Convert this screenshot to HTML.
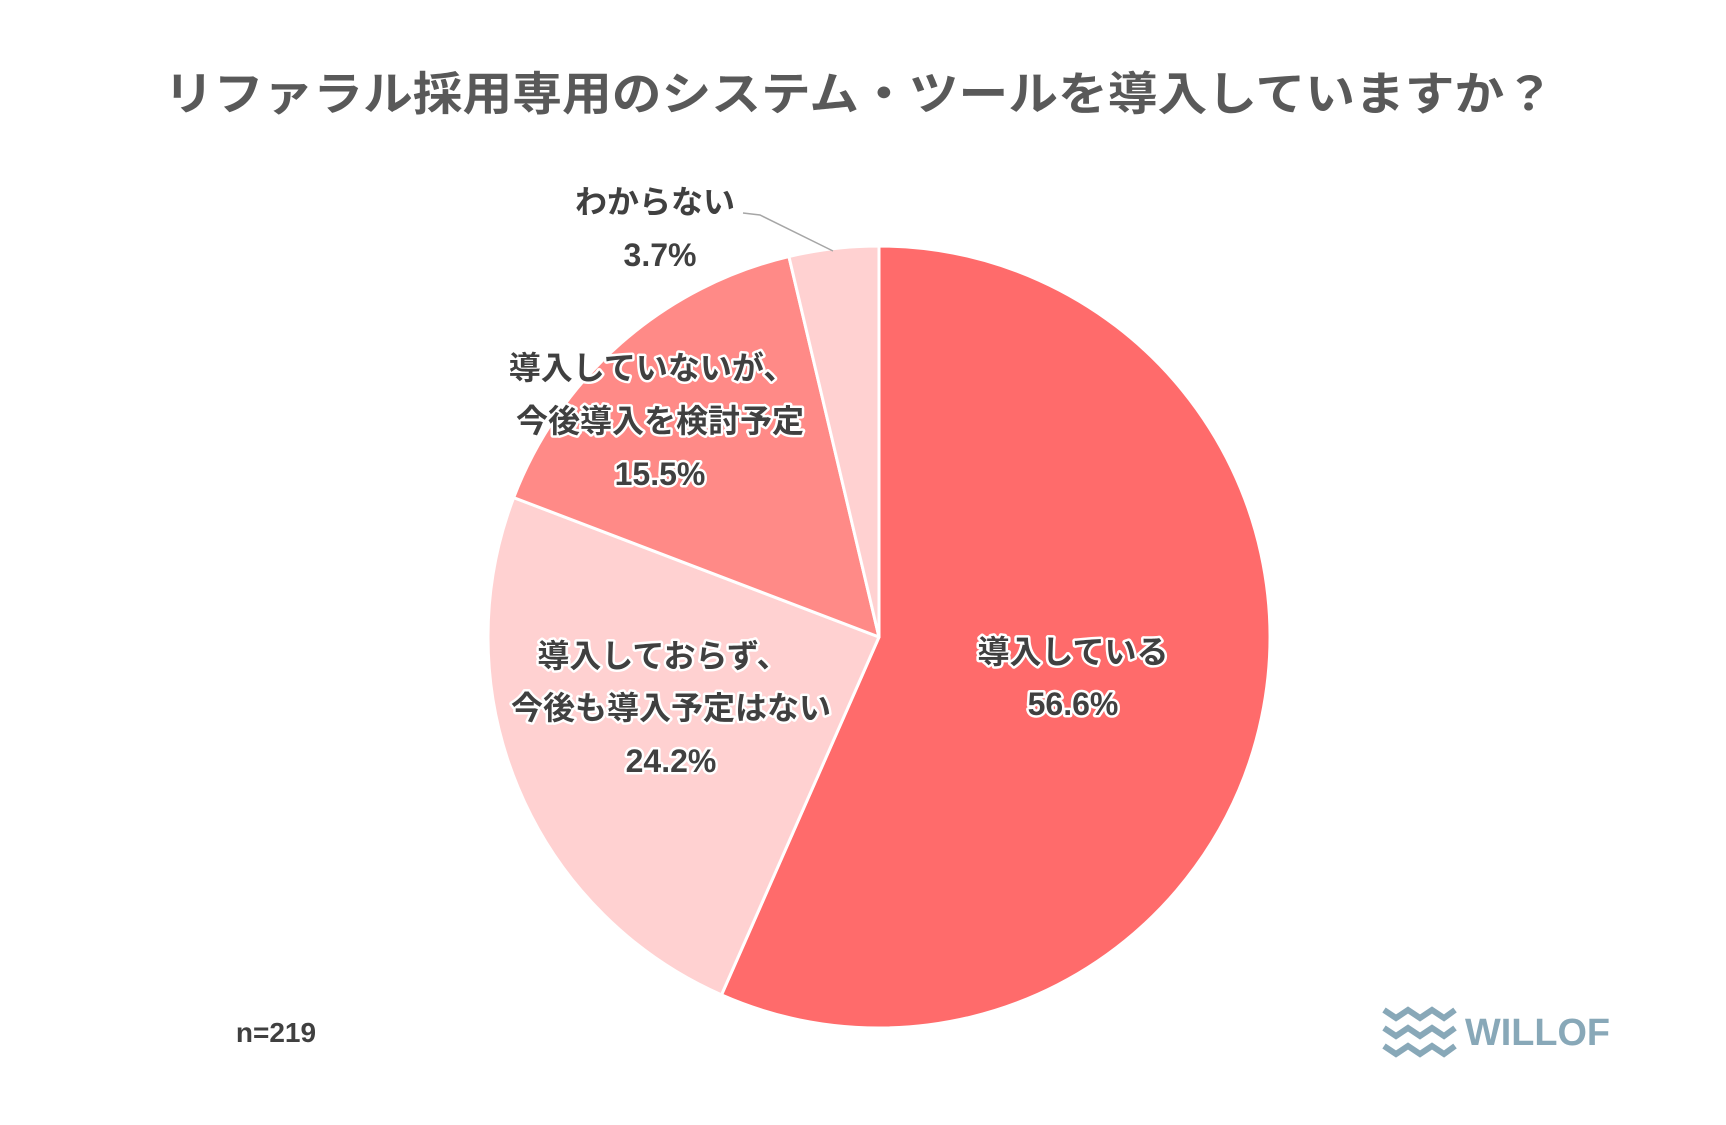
<!DOCTYPE html>
<html><head><meta charset="utf-8"><style>
html,body{margin:0;padding:0;background:#fff;}
svg{display:block;}
text{font-family:"Liberation Sans","Noto Sans CJK JP",sans-serif;font-weight:bold;}
.lb{fill:#404040;font-size:32px;stroke:#fff;stroke-width:5px;paint-order:stroke;stroke-linejoin:round;}
</style></head><body>
<svg width="1726" height="1125" viewBox="0 0 1726 1125" xmlns="http://www.w3.org/2000/svg">
<rect width="1726" height="1125" fill="#fff"/>
<text x="164" y="110" font-size="46" fill="#595959" textLength="1390" lengthAdjust="spacingAndGlyphs">リファラル採用専用のシステム・ツールを導入していますか？</text>
<g stroke="#fff" stroke-width="3" stroke-linejoin="round">
<path d="M879,637 L879,246 A391,391 0 1,1 721.5,994.9 Z" fill="#FF6B6B"/>
<path d="M879,637 L721.5,994.9 A391,391 0 0,1 513.7,497.6 Z" fill="#FFD1D1"/>
<path d="M879,637 L513.7,497.6 A391,391 0 0,1 788.9,256.5 Z" fill="#FF8A87"/>
<path d="M879,637 L788.9,256.5 A391,391 0 0,1 879,246 Z" fill="#FFD1D1"/>
</g>
<polyline points="743,213 760,215 833,251" fill="none" stroke="#A6A6A6" stroke-width="1.5"/>
<g class="lb" text-anchor="middle">
<text x="655" y="213">わからない</text>
<text x="660" y="266">3.7%</text>
<text x="652" y="379">導入していないが、</text>
<text x="660" y="432">今後導入を検討予定</text>
<text x="660" y="485">15.5%</text>
<text x="663" y="667">導入しておらず、</text>
<text x="671" y="719">今後も導入予定はない</text>
<text x="671" y="772">24.2%</text>
<text x="1073" y="663">導入している</text>
<text x="1073" y="715">56.6%</text>
</g>
<text x="276" y="1042" text-anchor="middle" font-size="28" fill="#404040">n=219</text>
<g fill="none" stroke="#88A8B8" stroke-width="6">
<polyline points="1384,1010 1396,1018 1408,1010 1420,1018 1432,1010 1444,1018 1455,1010"/>
<polyline points="1384,1028 1396,1036 1408,1028 1420,1036 1432,1028 1444,1036 1455,1028"/>
<polyline points="1384,1046 1396,1054 1408,1046 1420,1054 1432,1046 1444,1054 1455,1046"/>
</g>
<text x="1465" y="1045" font-size="38" fill="#88A8B8" textLength="145" lengthAdjust="spacingAndGlyphs">WILLOF</text>
</svg>
</body></html>
